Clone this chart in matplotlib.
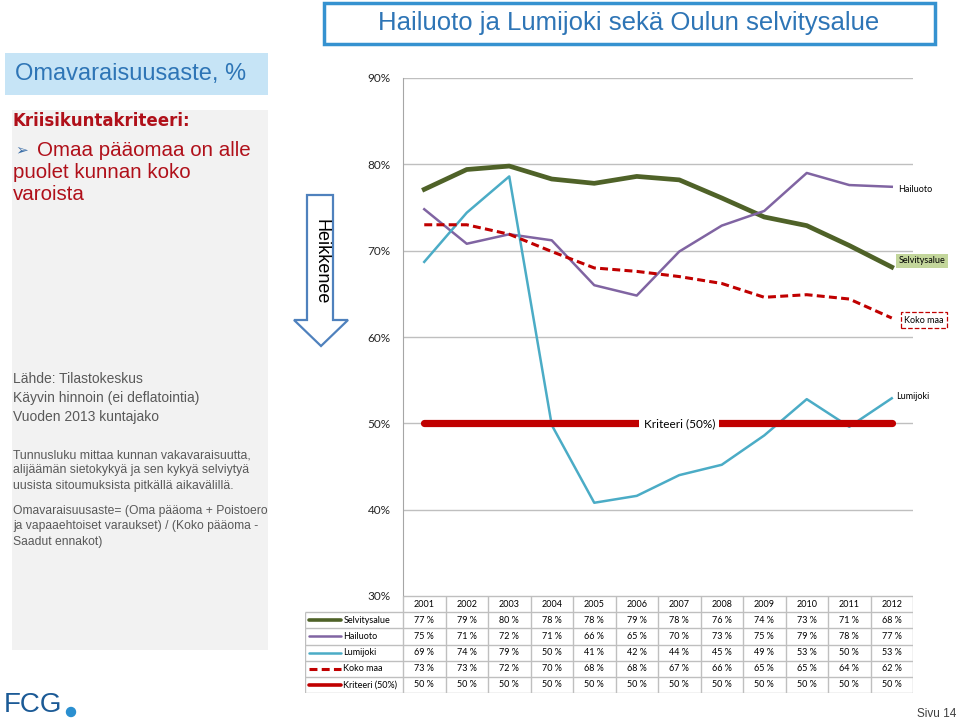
import matplotlib.pyplot as plt
from matplotlib.patches import Rectangle, Polygon, Circle

plt.rcParams['font.family'] = ['Liberation Sans', 'DejaVu Sans']

# data
years = ['2001', '2002', '2003', '2004', '2005', '2006', '2007', '2008', '2009', '2010', '2011', '2012']
selvitysalue = [77.1, 79.4, 79.8, 78.3, 77.8, 78.6, 78.2, 76.1, 73.9, 72.9, 70.6, 68.1]
hailuoto = [74.8, 70.8, 71.9, 71.2, 66.0, 64.8, 69.9, 72.9, 74.6, 79.0, 77.6, 77.4]
lumijoki = [68.7, 74.4, 78.6, 49.8, 40.8, 41.6, 44.0, 45.2, 48.6, 52.8, 49.6, 52.9]
koko_maa = [73.0, 73.0, 71.9, 69.9, 68.0, 67.6, 67.0, 66.2, 64.6, 64.9, 64.4, 62.2]
kriteeri = [50, 50, 50, 50, 50, 50, 50, 50, 50, 50, 50, 50]
names = ['Selvitysalue', 'Hailuoto', 'Lumijoki', 'Koko maa', 'Kriteeri (50%)']
y_ticks = [30, 40, 50, 60, 70, 80, 90]

W, H = 960, 721


def px(l, t, r, b):
    return [l / W, 1 - b / H, (r - l) / W, (b - t) / H]


fig = plt.figure(figsize=(9.6, 7.21), dpi=100)

# taustalla oleva "dia"
bg = fig.add_axes([0, 0, 1, 1])
bg.set_xlim(0, W)
bg.set_ylim(H, 0)
bg.axis('off')

bg.add_patch(Rectangle((5, 53), 263, 42, fc='#c6e4f6', ec='none'))
bg.text(15, 74, 'Omavaraisuusaste, %', color='#2e75b6', fontsize=17, va='center')

bg.add_patch(Rectangle((12, 110), 256, 540, fc='#f2f2f2', ec='none'))
red = '#b0101a'
bg.text(13, 121, 'Kriisikuntakriteeri:', family=['DejaVu Sans'], color=red, fontsize=12,
        fontweight='bold', va='center')
bg.text(15, 150, '➢', family=['DejaVu Sans'], color='#3c6fa8', fontsize=11, va='center')
for i, s in enumerate(['Omaa pääomaa on alle', 'puolet kunnan koko', 'varoista']):
    bg.text(13 if i else 37, 150 + i * 22.5, s, color=red, fontsize=14.8, va='center')

grey = '#595959'
for i, s in enumerate(['Lähde: Tilastokeskus', 'Käyvin hinnoin (ei deflatointia)', 'Vuoden 2013 kuntajako']):
    bg.text(13, 379 + i * 19, s, color=grey, fontsize=10, va='center')
for i, s in enumerate(['Tunnusluku mittaa kunnan vakavaraisuutta,',
                       'alijäämän sietokykyä ja sen kykyä selviytyä',
                       'uusista sitoumuksista pitkällä aikavälillä.']):
    bg.text(13, 455 + i * 15.5, s, color=grey, fontsize=8.8, va='center')
for i, s in enumerate(['Omavaraisuusaste= (Oma pääoma + Poistoero',
                       'ja vapaaehtoiset varaukset) / (Koko pääoma -',
                       'Saadut ennakot)']):
    bg.text(13, 511 + i * 15.5, s, color=grey, fontsize=8.7, va='center')

# otsikko
bg.add_patch(Rectangle((324, 3), 611, 41, fc='white', ec='#3592d0', lw=2.5))
bg.text(629, 23, 'Hailuoto ja Lumijoki sekä Oulun selvitysalue', color='#2e75b6',
        fontsize=18.5, ha='center', va='center')

# nuoli
bg.add_patch(Polygon([(307, 195), (333, 195), (333, 320), (348, 320), (321, 346),
                      (294, 320), (307, 320)], closed=True, fc='white', ec='#4f81bd', lw=1.6))
bg.text(321, 262, 'Heikkenee', rotation=-90, fontsize=13, ha='center', va='center')

# logo ja sivu
bg.text(4, 705, 'FCG', color='#1b5a96', fontsize=20, va='center')
bg.add_patch(Circle((71, 712), 4.5, color='#2a8fd0'))
bg.text(937, 714, 'Sivu 14', color='#404040', fontsize=8.5, ha='center', va='center')

# kaavio
ax = fig.add_axes(px(403, 78, 913, 596))
ax.set_facecolor('none')
x = range(len(years))
styles = [
    dict(color='#4f6228', lw=3.4),
    dict(color='#8064a2', lw=1.8),
    dict(color='#4bacc6', lw=1.8),
    dict(color='#c00000', lw=2.2, ls=(0, (2.6, 1.4))),
    dict(color='#c00000', lw=5.2, solid_capstyle='round'),
]
series = [selvitysalue, hailuoto, lumijoki, koko_maa, kriteeri]
for vals, st in zip(series, styles):
    ax.plot(x, vals, **st)

ax.set_xlim(-0.5, len(years) - 0.5)
ax.set_ylim(30, 90)
ax.set_yticks(y_ticks)
ax.set_yticklabels([f'{t}%' for t in y_ticks], family='Lato', fontsize=8.5, color='#262626')
ax.set_xticks([])
ax.tick_params(axis='y', length=0, pad=9)
ax.grid(axis='y', color='#bfbfbf', lw=1)
for s in ['top', 'right', 'bottom']:
    ax.spines[s].set_visible(False)
ax.spines['left'].set_color('#a6a6a6')

last = len(years) - 1
ax.text(6, 50, 'Kriteeri (50%)', family='Lato', fontsize=8.5, ha='center', va='center',
        bbox=dict(boxstyle='square,pad=0.35', fc='white', ec='none'))
ax.annotate('Hailuoto', (last, hailuoto[-1]), xytext=(4.5, -2), textcoords='offset points',
            family='Lato', fontsize=6.5, va='center')
ax.annotate('Selvitysalue', (last, selvitysalue[-1]), xytext=(5, 4.5), textcoords='offset points',
            family='Lato', fontsize=6.5, va='center',
            bbox=dict(boxstyle='square,pad=0.3', fc='#c3d69b', ec='none'))
ax.annotate('Koko maa', (last, koko_maa[-1]), xytext=(9, -1.5), textcoords='offset points',
            family='Lato', fontsize=6.5, va='center',
            bbox=dict(boxstyle='square,pad=0.35', fc='white', ec='#c00000', ls='--', lw=0.9))
ax.annotate('Lumijoki', (last, lumijoki[-1]), xytext=(3, 1), textcoords='offset points',
            family='Lato', fontsize=6.5, va='center')

# taulukko
tax = fig.add_axes(px(305, 596, 913, 693))
tax.set_facecolor('none')
x0 = -0.5 - 98 / 42.5
tax.set_xlim(x0, len(years) - 0.5)
tax.set_ylim(6, 0)
tax.axis('off')
lc = '#bfbfbf'
tax.hlines(0, -0.5, len(years) - 0.5, color=lc, lw=1)
for k in range(1, 7):
    tax.hlines(k, x0, len(years) - 0.5, color=lc, lw=1)
for i in range(len(years) + 1):
    tax.vlines(i - 0.5, 0, 6, color=lc, lw=1)
tax.vlines(x0, 1, 6, color=lc, lw=1)
for i, yr in enumerate(years):
    tax.text(i, 0.5, yr, family='Lato', fontsize=6.5, ha='center', va='center')
for k, (name, vals, st) in enumerate(zip(names, series, styles), start=1):
    st2 = {k2: v for k2, v in st.items() if k2 != 'solid_capstyle'}
    if k in (1, 5):
        st2['lw'] = 2.6
    tax.plot([x0 + 0.09, x0 + 0.84], [k + 0.5, k + 0.5], solid_capstyle='round', **st2)
    tax.text(x0 + 0.9, k + 0.5, name, family='Lato', fontsize=6.5, va='center')
    for i, v in enumerate(vals):
        tax.text(i, k + 0.5, f'{round(v)} %', family='Lato', fontsize=6.5, ha='center', va='center')

fig.savefig('out.png', dpi=100)
